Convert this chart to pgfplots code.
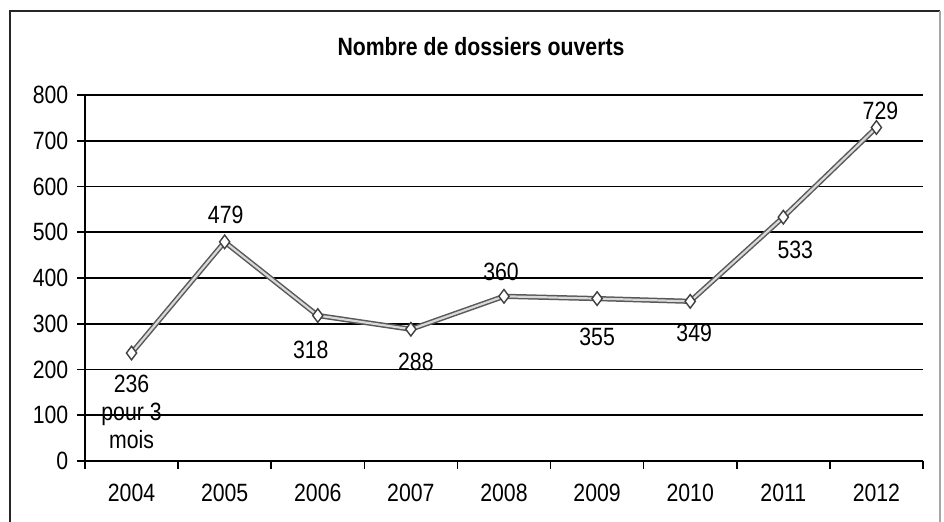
\documentclass[border=0pt]{standalone}
\usepackage{fontspec}
\setmainfont[FakeStretch=0.85]{Liberation Sans}
\usepackage{pgfplots}
\pgfplotsset{compat=1.18}
\pgfplotstableread{
x y
0 236
1 479
2 318
3 288
4 360
5 355
6 349
7 533
8 729
}\dossiers
\begin{document}
\fontsize{12.5}{14}\selectfont
\begin{tikzpicture}[x=0.5pt,y=0.5pt]
\useasboundingbox (0,0) rectangle (944,521);
\draw[line width=1.1pt, black!85] (10,-5) -- (10,510) -- (940,510);
\draw[line width=0.6pt, black!35] (940,510) -- (940,-5);
\node[font=\bfseries\fontsize{12.5}{14}\selectfont] at (481,474) {Nombre de dossiers ouverts};
\begin{axis}[
  at={(42.5pt,30pt)}, anchor=south west,
  scale only axis, width=419pt, height=183pt,
  xmin=-0.5, xmax=8.5, ymin=0, ymax=800,
  axis x line=bottom, axis y line=left,
  axis line style={-, line width=0.9pt, black},
  ytick={0,100,...,800},
  ymajorgrids, grid style={black, line width=0.8pt},
  tick align=outside, major tick length=4pt,
  tick style={black, line width=0.8pt},
  xtick={-0.5,0.5,1.5,2.5,3.5,4.5,5.5,6.5,7.5,8.5},
  xticklabels={},
  extra x ticks={0,1,2,3,4,5,6,7,8},
  extra x tick labels={2004,2005,2006,2007,2008,2009,2010,2011,2012},
  extra x tick style={major tick length=0pt, grid=none},
  ticklabel style={font=\fontsize{12.5}{14}\selectfont},
  xticklabel style={yshift=-7pt},
  /pgf/number format/assume math mode=true,
  /pgf/number format/1000 sep={},
]
\addplot[black!65, line width=2.6pt, forget plot] table {\dossiers};
\addplot[black!15, line width=1.1pt, mark=diamond*, mark size=3.4pt,
  mark options={draw=black!75, fill=white, line width=0.7pt}] table {\dossiers};
\node[inner sep=0pt, align=center, font=\fontsize{12.5}{14}\selectfont] at (axis cs:0,236) [yshift=-29.5pt] {236\\pour 3\\mois};
\node[inner sep=0pt] at (axis cs:1,479) [xshift=0.5pt, yshift=13.5pt] {479};
\node[inner sep=0pt] at (axis cs:2,318) [xshift=-3.5pt, yshift=-17pt] {318};
\node[inner sep=0pt] at (axis cs:3,288) [xshift=2.5pt, yshift=-16.5pt] {288};
\node[inner sep=0pt] at (axis cs:4,360) [xshift=-1.5pt, yshift=12pt] {360};
\node[inner sep=0pt] at (axis cs:5,355) [yshift=-19pt] {355};
\node[inner sep=0pt] at (axis cs:6,349) [xshift=2pt, yshift=-16pt] {349};
\node[inner sep=0pt] at (axis cs:7,533) [xshift=6pt, yshift=-16.5pt] {533};
\node[inner sep=0pt] at (axis cs:8,729) [xshift=2pt, yshift=8.5pt] {729};
\end{axis}
\end{tikzpicture}
\end{document}
